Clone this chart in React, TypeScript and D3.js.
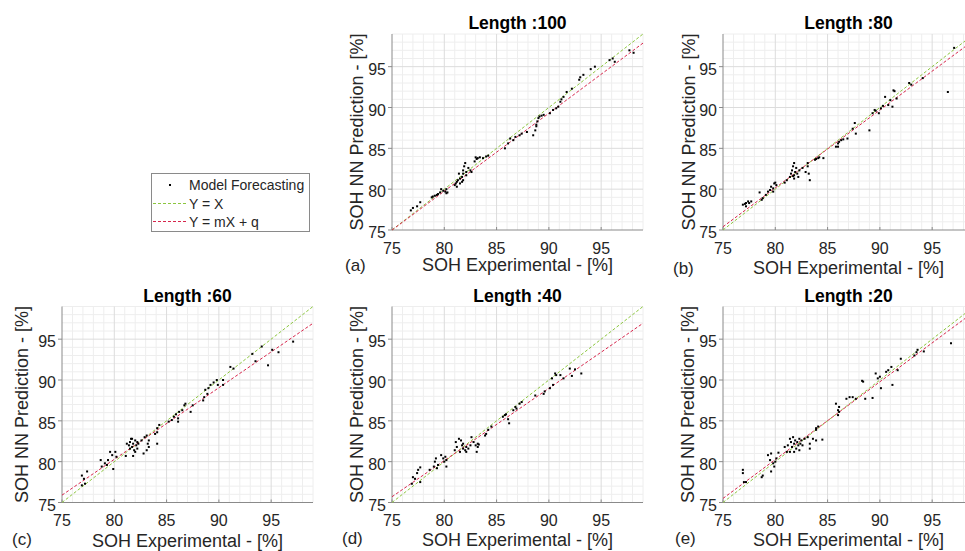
import React from 'react';
import * as d3 from 'd3';

const titles = ['Length :100', 'Length :80', 'Length :60', 'Length :40', 'Length :20'];
const letters = ['(a)', '(b)', '(c)', '(d)', '(e)'];
const slopes = [0.954, 0.9525, 0.8767, 0.885, 0.952];
const intercepts = [3.44, 3.96, 10.15, 9.33, 4.1];
const tickValues = [75, 80, 85, 90, 95];
const domainMin = 75;
const domainMax = 99;
const legendLabels = ['Model Forecasting', 'Y = X', 'Y = mX + q'];

const pointsA: [number, number][] = [
  [76.8, 77.4], [77.0, 77.7], [77.4, 77.9], [77.7, 78.4],
  [78.8, 79.0], [79.1, 79.2], [79.4, 79.4], [79.6, 79.6], [79.9, 79.8], [80.1, 79.7], [80.2, 79.5], [79.7, 80.0],
  [79.3, 79.3], [78.9, 79.1], [80.2, 80.0], [80.3, 79.6],
  [81.0, 80.5], [81.2, 80.9], [81.3, 81.1], [81.5, 81.3], [81.7, 81.5], [81.8, 81.9], [81.8, 82.3], [81.9, 82.8],
  [82.0, 83.2], [81.7, 80.9], [81.5, 80.7], [81.8, 81.1], [82.1, 82.1], [82.3, 82.6], [82.5, 82.3], [82.6, 82.1],
  [81.2, 80.3], [81.1, 80.7], [82.1, 81.7], [81.4, 81.9],
  [82.9, 83.4], [83.1, 83.7], [83.2, 83.8], [83.4, 83.9], [83.7, 83.8], [84.0, 84.0], [84.2, 84.1], [83.0, 83.9],
  [85.8, 85.0], [86.1, 85.6], [86.3, 86.2], [86.6, 86.0], [86.8, 86.4], [87.2, 86.6], [87.4, 86.8], [87.9, 87.0], [88.5, 86.6],
  [88.7, 87.2], [88.8, 87.9], [88.9, 88.3], [89.0, 88.7], [89.1, 88.9], [89.3, 89.0], [89.5, 89.1], [88.8, 87.7],
  [90.1, 89.3], [90.4, 89.7], [90.7, 89.9], [90.9, 90.1], [91.1, 90.7], [91.2, 91.0], [91.4, 91.3],
  [91.7, 91.9], [92.2, 92.3], [92.9, 93.4], [93.0, 93.7], [93.3, 94.0], [94.0, 94.7], [94.4, 95.0],
  [95.8, 95.8], [96.1, 96.0], [96.3, 95.6], [97.7, 97.0], [98.1, 96.7],
];

const pointsB: [number, number][] = [
  [76.9, 78.1], [77.1, 78.2], [77.2, 78.3], [77.4, 78.5], [77.5, 78.3], [77.7, 78.5], [77.2, 77.9],
  [78.5, 79.6], [78.7, 78.7], [78.8, 78.9], [79.1, 79.3], [79.3, 79.7], [79.5, 79.9], [79.6, 80.3], [79.8, 80.1],
  [79.9, 80.7], [80.1, 80.5], [80.0, 80.8], [79.8, 79.7],
  [80.9, 80.8], [81.1, 81.1], [81.4, 81.5],
  [81.5, 81.9], [81.6, 82.3], [81.7, 82.8], [81.8, 83.2], [81.8, 81.7], [81.9, 82.1], [82.0, 82.6], [82.1, 81.9],
  [82.2, 81.5], [81.8, 81.3], [81.7, 81.6], [82.3, 82.3],
  [82.6, 82.6], [82.9, 82.1], [83.1, 82.8], [83.2, 81.9], [83.3, 81.1], [83.1, 83.2],
  [83.8, 83.6], [83.9, 83.7], [84.1, 83.8], [84.2, 83.9], [84.6, 83.8],
  [85.8, 85.2], [86.0, 85.6], [86.1, 85.8], [86.0, 85.2], [86.3, 86.0], [86.5, 86.1],
  [86.9, 86.2], [87.4, 87.4], [87.6, 88.1], [87.7, 86.8],
  [89.0, 87.2], [89.3, 89.3], [89.5, 89.7], [89.6, 89.6], [89.9, 89.3], [90.1, 89.9],
  [90.3, 90.2], [90.5, 91.3], [90.8, 90.3], [91.0, 90.9], [91.2, 90.1], [91.3, 92.1], [91.4, 92.0], [91.6, 91.1],
  [92.8, 93.0], [93.0, 92.8], [94.1, 93.6], [96.5, 91.9], [97.1, 97.3],
];

const pointsC: [number, number][] = [
  [76.9, 78.3], [77.1, 77.9], [77.2, 77.3], [77.4, 78.8], [76.9, 77.1],
  [78.7, 80.2], [78.8, 79.4], [79.1, 79.8], [79.3, 79.6], [79.4, 80.2], [79.6, 81.2], [79.9, 79.1], [80.1, 81.2],
  [80.2, 80.6], [79.8, 80.8],
  [81.1, 80.7], [81.2, 82.2], [81.4, 82.0], [81.5, 82.4], [81.6, 82.8], [81.7, 81.8], [81.8, 82.2], [81.8, 80.7],
  [81.9, 81.4], [82.0, 82.6], [82.1, 82.0], [82.2, 81.6], [82.2, 82.4], [82.3, 82.2], [81.7, 82.8], [81.5, 81.6], [82.0, 81.2],
  [82.6, 82.6], [82.8, 81.0], [82.9, 83.0], [83.1, 83.2], [83.2, 82.2], [83.3, 81.8], [83.1, 81.4], [83.3, 82.6],
  [83.9, 83.4], [84.1, 83.6], [84.1, 84.1], [84.3, 84.5], [84.1, 82.2],
  [85.2, 84.9], [85.5, 85.1], [85.7, 85.5], [85.9, 85.8], [86.1, 85.3], [86.1, 84.9], [86.2, 86.1], [86.5, 86.3],
  [86.7, 86.9], [86.8, 87.1], [87.3, 86.1], [87.5, 86.9],
  [88.5, 87.5], [88.6, 87.9], [88.7, 88.8], [88.9, 88.3], [89.0, 89.0], [89.2, 89.4], [89.5, 89.7], [89.8, 90.0],
  [89.9, 89.4], [90.4, 89.4], [90.4, 90.0],
  [91.1, 91.6], [91.4, 91.4],
  [93.2, 93.2], [93.5, 92.3], [94.1, 94.1], [94.7, 91.8], [95.1, 93.7], [95.7, 93.4], [97.1, 94.7],
];

const pointsD: [number, number][] = [
  [76.9, 77.3], [77.0, 78.1], [77.2, 77.9], [77.4, 78.6], [77.5, 79.0], [77.7, 77.5], [77.7, 79.3],
  [78.6, 79.0], [79.0, 79.4], [79.1, 80.0], [79.2, 80.4], [79.3, 79.2], [79.4, 79.6], [79.7, 80.8], [79.9, 80.4],
  [80.0, 80.0], [80.1, 80.6], [80.2, 79.4], [80.2, 80.2],
  [81.0, 81.4], [81.1, 82.4], [81.2, 81.8], [81.4, 82.8], [81.5, 81.2], [81.7, 82.0], [81.8, 81.6], [81.8, 82.2],
  [82.0, 81.4], [82.1, 81.8], [82.1, 81.2], [82.3, 81.6], [82.5, 82.0], [82.6, 83.0], [82.8, 82.4], [81.6, 82.6],
  [83.0, 82.0], [83.2, 82.2], [83.2, 81.8], [83.1, 81.2], [83.3, 82.1],
  [83.9, 83.2], [84.0, 83.4], [84.2, 83.9], [84.5, 84.3], [85.6, 85.5], [85.8, 85.7], [85.9, 85.8], [86.1, 85.2],
  [86.2, 84.7], [86.6, 86.3], [86.8, 86.7], [86.9, 86.5], [87.2, 87.1], [87.4, 87.3],
  [88.7, 88.1], [89.5, 88.3], [89.6, 88.6], [90.1, 89.0], [90.3, 90.2], [90.4, 89.4], [90.6, 90.8], [90.7, 90.6],
  [91.1, 90.6], [91.4, 90.2], [92.0, 91.4], [92.2, 90.5], [92.5, 91.3], [93.1, 90.8],
];

const pointsE: [number, number][] = [
  [76.9, 79.0], [76.9, 78.6], [77.0, 77.5], [77.2, 77.5], [78.7, 78.1], [78.8, 78.3],
  [79.3, 80.8], [79.5, 80.2], [79.6, 81.0], [79.6, 78.8], [79.8, 79.8], [79.9, 79.4], [80.0, 80.0], [80.1, 80.4],
  [80.3, 81.1], [80.9, 81.8], [81.1, 81.2],
  [81.2, 82.0], [81.4, 82.8], [81.5, 82.4], [81.6, 81.8], [81.7, 83.0], [81.8, 81.2], [81.8, 82.2], [81.9, 82.6],
  [82.0, 81.6], [82.1, 82.4], [82.2, 82.0], [82.3, 82.8], [82.3, 81.4], [82.4, 82.2], [82.5, 82.6], [81.4, 81.2], [82.6, 82.0],
  [82.8, 82.8], [83.1, 83.0], [83.3, 82.2], [83.3, 81.6], [83.6, 82.8], [83.9, 83.9], [83.9, 84.1], [84.1, 84.3],
  [83.9, 82.6], [84.5, 82.7],
  [85.8, 87.1], [86.0, 85.7], [86.0, 86.3], [86.1, 86.7], [86.1, 86.1],
  [86.8, 87.7], [87.1, 87.9], [87.4, 87.9], [87.7, 87.7], [88.6, 87.7], [88.3, 89.9], [88.4, 89.8],
  [89.3, 87.8], [89.6, 90.8], [89.8, 90.2], [90.0, 90.4], [90.1, 89.0],
  [90.6, 91.0], [90.8, 91.2], [91.1, 91.6], [91.2, 89.4], [91.7, 91.2], [92.0, 92.6],
  [93.3, 93.0], [93.5, 93.4], [93.6, 93.7], [94.2, 93.5], [96.8, 94.5],
];

const allPoints = [pointsA, pointsB, pointsC, pointsD, pointsE];

// layout (pixels)
const W = 965;
const H = 551;
const panelLeft = [392, 723, 62, 392, 723];
const panelTop = [34, 34, 306.5, 306.5, 306.5];
const PW = 251;
const PH = 196;
const yLabelOffset = [29, 28, 34, 29, 29];
const xLabelOffset = [41, 44, 44, 43, 43];
const letterDx = [-47, -50, -50, -50, -48];
const letterDy = [41, 44, 42, 41, 41];

const FONT = 'Liberation Sans, Arial, Helvetica, sans-serif';
const GREEN = '#8cc63f';
const RED = '#d7264c';
const TEXT = '#262626';
const AXIS = '#8a8a8a';

function Panel({ i }: { i: number }) {
  const left = panelLeft[i];
  const top = panelTop[i];
  const x = d3.scaleLinear().domain([domainMin, domainMax]).range([left, left + PW]);
  const y = d3.scaleLinear().domain([domainMin, domainMax]).range([top + PH, top]);
  const gridVals = d3.range(domainMin + 1, domainMax + 1);
  const minor = gridVals.filter((v) => v % 5 !== 0);
  const major = gridVals.filter((v) => v % 5 === 0);
  const m = slopes[i];
  const q = intercepts[i];
  const line = d3.line<[number, number]>().x((d) => x(d[0])).y((d) => y(d[1]));
  const idLine = line([[domainMin, domainMin], [domainMax, domainMax]]) || '';
  const fitLine = line([[domainMin, m * domainMin + q], [domainMax, m * domainMax + q]]) || '';
  const bottom = top + PH;
  const cx = left + PW / 2;
  return (
    <g>
      {minor.map((v) => (
        <g key={'m' + v}>
          <line x1={x(v)} x2={x(v)} y1={top} y2={bottom} stroke="#eeeeee" strokeWidth={1} />
          <line x1={left} x2={left + PW} y1={y(v)} y2={y(v)} stroke="#eeeeee" strokeWidth={1} />
        </g>
      ))}
      {major.map((v) => (
        <g key={'M' + v}>
          <line x1={x(v)} x2={x(v)} y1={top} y2={bottom} stroke="#dcdcdc" strokeWidth={1} />
          <line x1={left} x2={left + PW} y1={y(v)} y2={y(v)} stroke="#dcdcdc" strokeWidth={1} />
        </g>
      ))}
      <line x1={left} x2={left} y1={top} y2={bottom} stroke={AXIS} strokeWidth={1} />
      <line x1={left} x2={left + PW} y1={bottom} y2={bottom} stroke={AXIS} strokeWidth={1} />
      {tickValues.map((v) => (
        <g key={'t' + v}>
          <line x1={x(v)} x2={x(v)} y1={bottom} y2={bottom - 3} stroke={AXIS} />
          <line x1={left - 4} x2={left} y1={y(v)} y2={y(v)} stroke={AXIS} />
          <text x={x(v)} y={bottom + 23.5} textAnchor="middle" fontSize={16} fontFamily={FONT} fill={TEXT}>{v}</text>
          <text x={left - 6} y={y(v) + 8} textAnchor="end" fontSize={16} fontFamily={FONT} fill={TEXT}>{v}</text>
        </g>
      ))}
      <path d={idLine} stroke={GREEN} strokeWidth={1} strokeDasharray="3,2" fill="none" />
      <path d={fitLine} stroke={RED} strokeWidth={1} strokeDasharray="3,2" fill="none" />
      {allPoints[i].map((p, k) => (
        <rect key={k} x={x(p[0]) - 1} y={y(p[1]) - 1} width={2} height={2} fill="#000" />
      ))}
      <text x={cx} y={top - 5} textAnchor="middle" fontSize={17.5} fontWeight="bold" fontFamily={FONT} fill="#000">{titles[i]}</text>
      <text x={cx} y={bottom + xLabelOffset[i]} textAnchor="middle" fontSize={18} fontFamily={FONT} fill={TEXT}>SOH Experimental - [%]</text>
      <text transform={`translate(${left - yLabelOffset[i]},${top + PH / 2}) rotate(-90)`} textAnchor="middle" fontSize={18} fontFamily={FONT} fill={TEXT}>SOH NN Prediction - [%]</text>
      <text x={left + letterDx[i]} y={bottom + letterDy[i]} fontSize={17} fontFamily={FONT} fill={TEXT}>{letters[i]}</text>
    </g>
  );
}

function Legend() {
  const lx = 151.5;
  const ly = 173.5;
  const rowY = [185, 203.5, 221.5];
  return (
    <g fontFamily={FONT} fontSize={14} fill={TEXT}>
      <rect x={lx} y={ly} width={158} height={58} fill="#fff" stroke={AXIS} strokeWidth={1} />
      <rect x={169} y={rowY[0] - 1} width={2} height={2} fill="#000" />
      <line x1={153} x2={186} y1={rowY[1]} y2={rowY[1]} stroke={GREEN} strokeDasharray="3,2" />
      <line x1={153} x2={186} y1={rowY[2]} y2={rowY[2]} stroke={RED} strokeDasharray="3,2" />
      {legendLabels.map((t, k) => (
        <text key={t} x={189} y={rowY[k] + 5}>{t}</text>
      ))}
    </g>
  );
}

export default function App() {
  return (
    <svg width={W} height={H} style={{ position: 'absolute', left: 0, top: 0, background: '#fff' }}>
      <rect x={0} y={0} width={W} height={H} fill="#fff" />
      {titles.map((_, i) => (
        <Panel key={i} i={i} />
      ))}
      <Legend />
    </svg>
  );
}
